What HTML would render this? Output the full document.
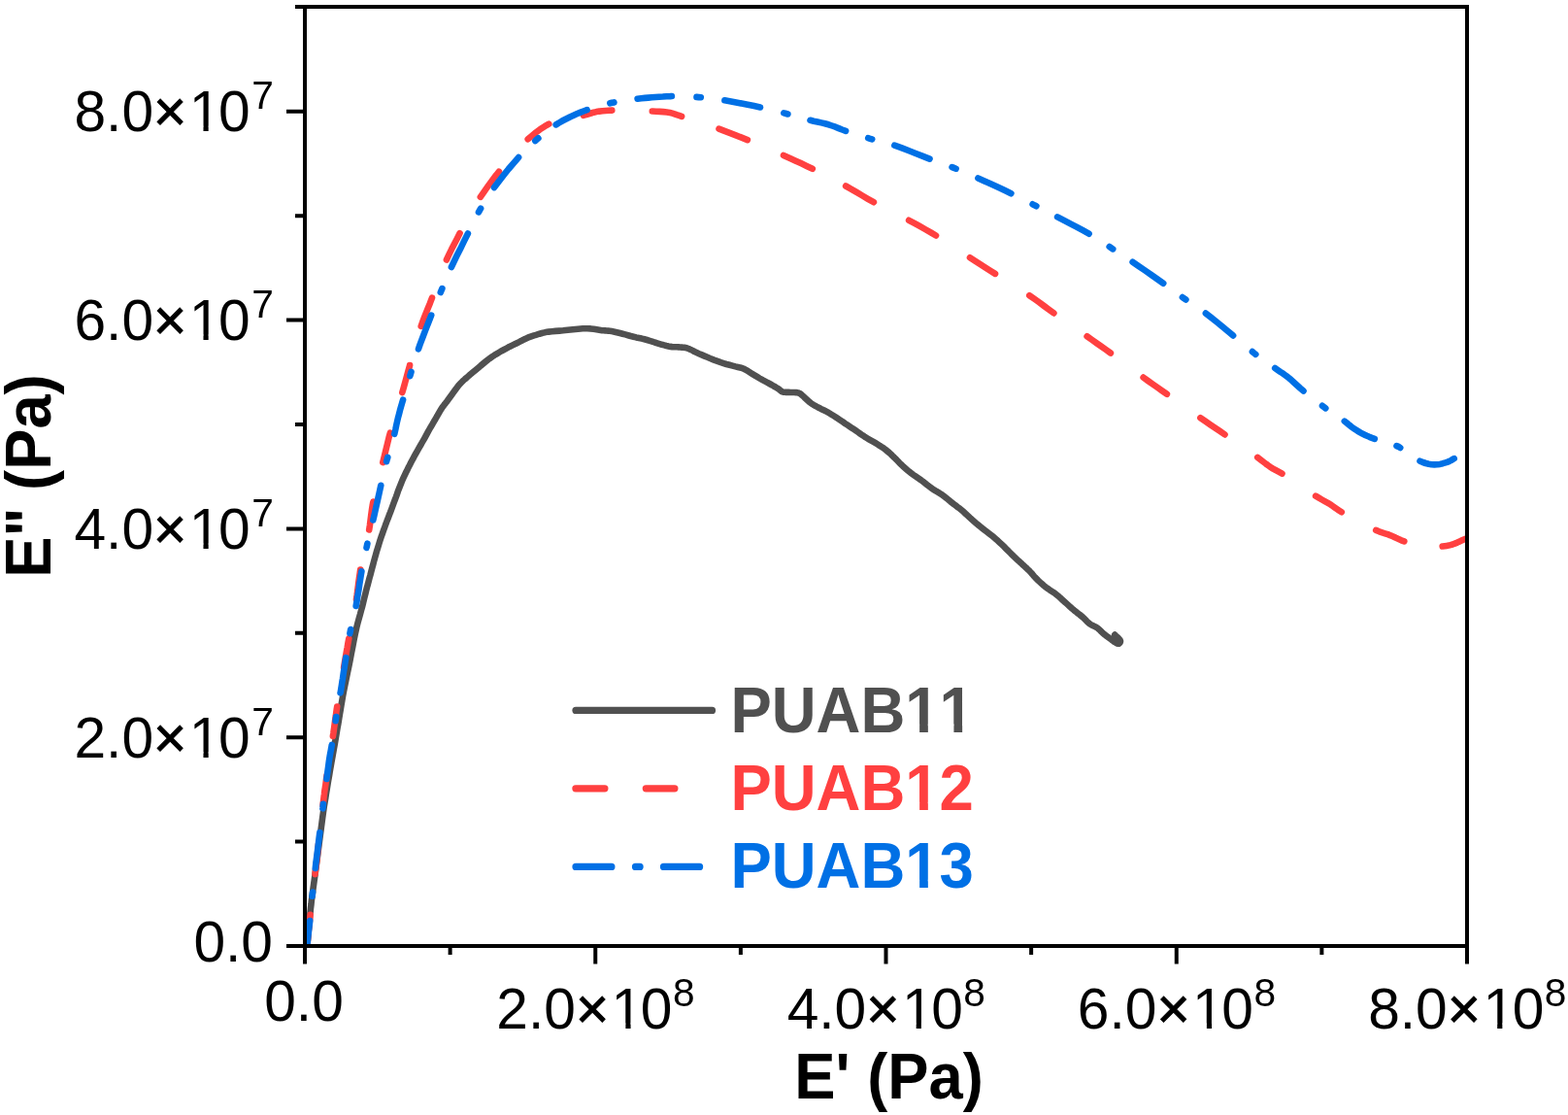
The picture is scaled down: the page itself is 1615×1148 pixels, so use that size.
<!DOCTYPE html><html><head><meta charset="utf-8"><style>html,body{margin:0;padding:0;background:#fff;}svg{display:block;}text{font-kerning:none;font-feature-settings:"kern" 0;}</style></head><body>
<svg width="1615" height="1148" viewBox="0 0 1615 1148">
<rect width="1615" height="1148" fill="#fff"/>
<defs><clipPath id="pc"><rect x="314" y="7" width="1197" height="967"/></clipPath></defs>
<g clip-path="url(#pc)" fill="none" stroke-width="6.6" stroke-linejoin="round" stroke-linecap="round">
<path d="M316.5 972.0 316.8 968.6 317.1 965.3 317.4 961.9 317.7 958.5 318.0 955.0 318.4 951.1 318.7 947.1 319.1 943.1 319.6 939.0 320.0 935.0 320.5 931.0 320.9 927.0 321.5 923.1 322.0 919.1 322.5 915.0 323.1 910.7 323.7 906.4 324.3 902.0 324.9 897.6 325.5 893.0 326.2 887.8 326.9 882.5 327.6 877.0 328.3 871.5 329.0 866.0 329.8 860.0 330.6 854.0 331.4 847.8 332.2 841.8 333.0 836.0 333.7 831.0 334.5 826.2 335.3 821.4 336.0 816.7 336.8 812.0 337.5 807.6 338.2 803.3 339.0 799.0 339.7 794.6 340.5 790.0 341.5 784.3 342.6 778.2 343.7 772.0 344.8 765.9 345.8 760.0 346.7 754.8 347.5 749.8 348.4 744.8 349.2 739.9 350.0 735.0 350.8 730.4 351.5 725.9 352.3 721.4 353.1 716.8 354.0 712.0 355.2 705.9 356.5 699.6 357.8 693.1 359.2 686.5 360.5 680.0 361.8 673.1 363.2 666.1 364.5 659.1 365.9 652.3 367.3 646.0 368.5 641.3 369.7 636.9 370.9 632.7 372.0 628.5 373.1 624.5 374.0 621.0 374.8 617.6 375.6 614.3 376.4 611.1 377.2 607.8 378.0 604.6 378.9 601.5 379.7 598.4 380.5 595.3 381.4 592.1 382.3 588.6 383.2 585.1 384.2 581.5 385.1 578.0 386.1 574.4 387.1 570.8 388.1 567.2 389.2 563.7 390.3 560.1 391.4 556.6 392.5 553.2 393.7 549.8 394.9 546.4 396.1 543.2 397.2 540.0 398.2 537.4 399.1 534.9 400.1 532.4 401.0 530.0 402.0 527.5 403.0 524.8 404.0 522.1 405.0 519.4 406.0 516.7 407.0 514.0 408.0 511.4 408.9 508.8 409.8 506.1 410.8 503.6 411.8 501.0 412.8 498.5 413.8 496.1 414.8 493.6 415.9 491.2 417.0 488.8 418.2 486.3 419.4 483.9 420.6 481.4 421.9 479.0 423.1 476.6 424.3 474.3 425.5 472.1 426.7 469.8 427.9 467.6 429.2 465.3 430.6 462.9 432.0 460.4 433.4 458.0 434.8 455.5 436.2 453.1 437.5 450.8 438.7 448.6 439.9 446.4 441.1 444.2 442.3 442.0 443.5 439.9 444.8 437.8 446.0 435.7 447.2 433.6 448.5 431.5 449.8 429.2 451.1 426.9 452.4 424.6 453.7 422.3 455.1 420.2 456.3 418.4 457.6 416.7 458.9 415.1 460.2 413.4 461.4 411.8 462.5 410.2 463.6 408.7 464.7 407.2 465.8 405.7 467.0 404.1 468.3 402.3 469.6 400.5 471.0 398.6 472.4 396.8 473.9 395.1 475.5 393.5 477.1 391.9 478.8 390.4 480.6 388.9 482.3 387.4 484.1 385.8 485.9 384.3 487.7 382.8 489.6 381.2 491.4 379.7 493.2 378.2 495.0 376.6 496.8 375.1 498.6 373.6 500.4 372.1 502.3 370.6 504.2 369.2 506.2 367.8 508.2 366.4 510.2 365.1 512.4 363.8 514.6 362.5 516.8 361.2 519.1 360.0 521.3 358.8 523.5 357.6 525.8 356.5 528.0 355.4 530.3 354.3 532.5 353.2 534.7 352.1 536.9 350.9 539.2 349.8 541.4 348.7 543.6 347.7 545.7 346.9 547.9 346.1 550.0 345.4 552.1 344.8 554.1 344.2 555.7 343.7 557.2 343.3 558.6 342.8 560.2 342.5 562.0 342.1 565.1 341.6 568.5 341.3 572.2 340.9 576.1 340.6 580.0 340.3 584.8 339.8 590.0 339.2 595.3 338.7 600.3 338.3 605.0 338.2 608.3 338.4 611.5 338.8 614.5 339.3 617.4 339.8 620.0 340.2 621.7 340.3 623.3 340.4 624.8 340.5 626.4 340.6 628.0 340.8 630.0 341.1 632.1 341.5 634.2 342.0 636.4 342.5 638.6 343.0 641.3 343.7 644.0 344.4 646.9 345.2 649.7 346.0 652.5 346.7 655.3 347.4 658.1 348.0 660.9 348.6 663.7 349.3 666.4 350.0 669.1 350.8 671.7 351.6 674.3 352.5 676.9 353.3 679.4 354.1 681.7 354.8 684.0 355.4 686.3 356.0 688.5 356.5 690.6 356.9 692.3 357.1 694.0 357.2 695.6 357.3 697.3 357.3 698.9 357.4 700.6 357.5 702.2 357.6 703.9 357.7 705.6 357.9 707.3 358.3 709.3 359.0 711.3 359.9 713.3 360.9 715.3 362.0 717.5 363.0 720.1 364.2 722.9 365.4 725.7 366.6 728.6 367.8 731.4 369.0 734.2 370.1 736.9 371.2 739.7 372.2 742.5 373.2 745.3 374.1 748.3 375.0 751.5 375.8 754.6 376.6 757.5 377.4 760.0 378.0 761.3 378.3 762.4 378.6 763.4 378.8 764.5 379.1 765.6 379.5 767.2 380.3 768.8 381.2 770.5 382.2 772.2 383.3 773.9 384.4 775.9 385.6 778.0 386.9 780.2 388.2 782.3 389.5 784.4 390.7 786.2 391.7 788.1 392.7 789.9 393.6 791.6 394.5 793.4 395.5 795.2 396.5 796.9 397.5 798.7 398.5 800.3 399.5 801.8 400.4 802.7 401.1 803.5 401.8 804.3 402.4 805.1 403.0 806.0 403.4 807.1 403.7 808.3 403.8 809.6 403.9 810.9 403.9 812.3 403.9 814.1 404.0 816.0 404.0 818.0 404.0 819.8 404.1 821.3 404.3 822.0 404.4 822.5 404.6 823.0 404.8 823.5 405.0 824.1 405.3 825.1 406.0 826.2 407.0 827.4 408.0 828.6 409.2 829.7 410.2 830.8 411.2 831.9 412.2 833.0 413.2 834.1 414.2 835.3 415.1 836.6 416.0 837.9 416.8 839.3 417.6 840.7 418.4 842.2 419.2 843.8 420.0 845.5 420.9 847.2 421.7 848.9 422.5 850.6 423.4 852.5 424.4 854.4 425.5 856.3 426.7 858.1 427.8 860.0 429.0 861.8 430.1 863.5 431.3 865.2 432.4 866.9 433.6 868.7 434.8 870.7 436.2 872.8 437.5 874.9 438.9 877.1 440.4 879.2 441.8 881.4 443.3 883.7 444.9 885.9 446.5 888.2 448.1 890.5 449.6 892.8 451.0 895.0 452.3 897.3 453.6 899.6 454.9 901.8 456.2 904.0 457.5 906.1 458.9 908.2 460.2 910.3 461.6 912.3 463.1 914.1 464.6 915.9 466.1 917.6 467.7 919.3 469.4 921.0 471.0 922.7 472.7 924.5 474.5 926.2 476.3 927.9 478.0 929.7 479.7 931.4 481.2 933.1 482.7 934.8 484.2 936.6 485.7 938.4 487.1 940.4 488.6 942.5 490.1 944.6 491.5 946.8 493.0 948.9 494.5 951.1 496.2 953.3 497.9 955.5 499.7 957.8 501.4 960.0 503.0 962.1 504.4 964.2 505.7 966.3 506.9 968.4 508.2 970.5 509.6 972.6 511.2 974.7 512.8 976.8 514.5 978.9 516.3 980.9 517.9 982.8 519.4 984.8 520.8 986.7 522.3 988.6 523.7 990.5 525.3 992.6 527.1 994.6 529.0 996.7 530.9 998.8 532.9 1000.9 534.8 1003.1 536.7 1005.4 538.7 1007.7 540.6 1010.0 542.5 1012.3 544.4 1014.6 546.2 1016.9 547.9 1019.1 549.6 1021.4 551.3 1023.6 553.1 1025.7 555.0 1027.8 556.8 1029.9 558.8 1031.9 560.7 1034.0 562.7 1036.1 564.8 1038.2 566.9 1040.3 569.0 1042.4 571.1 1044.5 573.2 1046.8 575.4 1049.2 577.6 1051.6 579.7 1053.8 581.8 1055.8 583.6 1057.0 584.7 1058.0 585.7 1059.0 586.6 1060.0 587.5 1061.0 588.6 1062.3 590.0 1063.6 591.5 1064.9 593.1 1066.3 594.7 1067.8 596.2 1069.5 597.9 1071.4 599.6 1073.3 601.3 1075.2 603.0 1077.2 604.6 1079.2 606.0 1081.2 607.4 1083.2 608.7 1085.2 610.0 1087.2 611.4 1089.1 613.0 1091.0 614.6 1092.9 616.3 1094.7 618.0 1096.6 619.7 1098.5 621.4 1100.4 623.1 1102.2 624.8 1104.1 626.5 1106.0 628.1 1107.9 629.6 1109.8 631.2 1111.8 632.6 1113.6 634.1 1115.4 635.6 1116.8 636.9 1118.1 638.3 1119.3 639.6 1120.6 640.8 1122.0 642.0 1123.6 643.1 1125.4 644.0 1127.2 644.9 1129.0 645.8 1130.6 646.8 1131.9 647.9 1133.2 649.1 1134.4 650.3 1135.6 651.5 1136.8 652.6 1138.0 653.5 1139.1 654.4 1140.3 655.2 1141.4 656.1 1142.6 656.9 1143.8 657.8 1145.0 658.8 1146.2 659.7 1147.4 660.6 1148.5 661.3 1149.3 661.8 1150.2 662.2 1150.9 662.6 1151.7 662.8 1152.3 662.8 1152.8 662.5 1153.3 662.0 1153.7 661.4 1153.9 660.7 1154.0 660.0 1153.5 658.9 1152.4 657.6 1151.0 656.2 1149.5 654.8 1148.2 653.5" stroke="#505050"/>
<path d="M316.5 972.0 317.1 966.5 317.6 960.8 318.2 955.2 318.8 949.9 319.3 945.0 319.6 941.9M324.5 900.1 324.5 900.0 324.9 896.9 325.3 893.7 325.7 890.6 326.1 887.3 326.5 884.0 326.9 880.2 327.3 876.3 327.7 872.3 327.9 869.6M332.6 828.9 332.7 828.1 333.1 824.6 333.5 821.0 334.0 817.4 334.4 813.9 335.0 810.4 335.5 806.8 336.0 803.0 336.6 798.5M342.9 757.9 343.4 754.8 343.8 751.8 344.2 748.9 344.6 746.0 345.0 743.0 345.4 739.9 345.9 736.8 346.3 733.7 346.7 730.6 347.2 727.5 347.2 727.5M354.1 687.4 354.1 687.3 354.7 683.7 355.3 680.1 355.9 676.5 356.5 673.0 357.1 669.7 357.7 666.6 358.2 663.4 358.8 660.2 359.3 657.4M367.0 617.1 367.6 613.2 368.6 605.5 369.6 597.5 370.7 589.9 371.2 586.6M380.2 545.4 380.9 541.0 381.6 535.5 382.3 529.9 383.0 524.7 383.7 520.2 384.1 518.0 384.4 516.6M394.3 476.1 394.6 474.9 396.1 468.7 397.6 462.6 399.1 456.5 400.5 450.7 401.9 445.7M414.3 404.2 415.8 399.0 417.4 393.2 419.0 387.3 420.6 381.5 422.1 376.1 422.1 376.0M433.7 335.8 435.7 330.2 438.0 324.2 440.5 318.1 442.9 312.2 445.0 306.6M459.9 267.5 462.4 262.2 465.1 256.6 468.0 251.0 470.9 245.4 473.6 240.1M494.8 202.8 498.3 197.8 502.1 192.4 506.1 186.9 510.1 181.6 513.9 176.7M543.7 143.3 547.7 139.9 552.0 136.4 556.4 133.1 560.9 130.2 565.3 127.7M600.9 118.8 603.7 118.1 606.3 117.3 608.9 116.5 611.6 115.7 614.3 115.1 617.4 114.6 620.5 114.3 623.7 114.0 627.0 113.8 630.3 113.6M671.8 114.5 672.0 114.5 675.8 114.7 679.5 114.9 683.2 115.1 686.7 115.5 690.0 116.0 692.5 116.6 694.7 117.3 696.9 118.1 699.3 118.9 702.1 119.9M740.5 132.7 746.3 134.9 752.2 137.1 758.0 139.3 763.8 141.6 769.9 144.1 769.9 144.1M807.0 159.9 813.2 162.7 819.1 165.4 824.9 168.1 830.8 170.9 836.8 173.8M871.1 191.5 877.0 194.8 882.7 198.2 888.3 201.5 893.9 204.8 899.9 208.2M936.1 226.8 941.9 229.9 947.4 232.9 952.8 236.0 958.3 239.1 964.0 242.5M999.0 265.2 999.0 265.2 1004.4 268.7 1009.5 272.0 1014.5 275.2 1019.6 278.5 1025.0 281.9M1060.3 304.2 1065.6 307.9 1070.5 311.4 1075.3 315.0 1080.2 318.6 1085.4 322.4M1119.6 346.3 1124.7 349.9 1129.4 353.2 1134.1 356.5 1138.9 359.9 1143.9 363.5M1177.6 388.6 1182.6 392.2 1187.4 395.6 1192.1 398.9 1196.8 402.2 1201.9 405.8M1236.4 430.2 1241.6 433.8 1246.5 437.2 1251.4 440.5 1256.3 443.8 1261.5 447.4M1295.2 470.9 1298.4 473.3 1301.2 475.5 1303.8 477.5 1306.4 479.4 1309.0 481.2 1311.2 482.6 1313.4 483.7 1315.5 484.8 1317.8 486.1 1320.5 487.6M1355.1 510.7 1358.5 512.7 1361.6 514.5 1364.5 516.1 1367.3 517.6 1370.1 519.3 1372.4 520.9 1374.6 522.4 1376.7 523.9 1379.0 525.5 1381.8 527.3 1381.8 527.3M1417.2 545.9 1420.6 547.3 1423.7 548.4 1426.6 549.3 1429.4 550.2 1432.3 551.3 1435.1 552.5 1437.8 553.8 1440.5 555.0 1443.3 556.3 1446.3 557.4 1446.3 557.4M1485.7 562.5 1488.0 562.2 1490.1 561.9 1492.1 561.6 1494.0 561.1 1496.1 560.5 1498.5 559.6 1501.0 558.6 1503.4 557.5 1505.9 556.3 1508.3 555.2 1510.7 554.2 1513.0 553.1 1514.8 552.3" stroke="#ff4040"/>
<path d="M316.5 972.0 317.0 967.5 317.5 963.0 318.0 958.4 318.5 954.0 319.0 949.7 319.2 948.0M321.6 922.7 321.7 921.7 322.0 919.0 322.1 918.5M324.8 894.0 325.1 891.3 325.5 887.7 326.0 884.0 326.5 880.1 327.0 876.2 327.5 872.2 328.0 868.2 328.5 864.0 329.1 859.1 329.4 857.2M332.4 832.3 332.5 831.6 332.9 828.1 332.9 827.9M336.4 802.0 336.9 798.3 337.6 793.3 338.3 788.2 338.9 783.4 339.6 779.0 340.1 776.1 340.6 773.5 341.1 771.0 341.5 768.5 341.8 766.9M345.6 742.2 345.9 740.0 346.2 738.0M350.6 713.3 350.7 713.0 351.3 709.2 351.9 705.5 352.4 702.0 353.0 698.5 353.5 695.0 354.0 691.5 354.6 688.0 355.1 684.5 355.7 680.8 356.3 677.2M360.4 652.2 360.8 650.0 361.2 648.0M366.7 623.9 367.0 622.1 367.7 618.1 368.3 614.1 369.0 610.0 369.7 605.7 370.3 601.4 371.0 597.0 371.7 592.5 372.4 588.4M377.5 563.9 377.9 562.0 378.4 559.7M384.3 535.5 385.2 531.7 387.0 523.6 388.9 515.2 390.7 507.1 392.3 499.8M398.1 475.2 398.7 473.0 399.3 471.0M406.3 446.8 406.5 445.9 407.4 441.9 408.2 437.9 409.1 433.9 410.0 430.0 411.0 426.3 411.9 422.7 412.9 419.1 414.0 415.4 415.1 411.6M422.3 387.1 422.9 385.0 423.5 383.0M431.0 359.3 432.5 354.9 435.4 347.3 438.4 339.4 441.4 331.7 444.2 324.6M453.8 301.0 454.6 299.0 455.4 297.1M464.9 275.0 466.8 271.0 470.5 263.3 474.5 255.4 478.3 247.6 481.9 240.5M493.0 218.4 494.0 216.6 495.1 214.7M509.0 193.1 513.6 187.0 518.6 180.5 523.8 174.0 529.1 167.8 534.1 162.1M551.3 145.0 552.9 143.6 554.4 142.3M572.7 128.4 575.7 126.5 578.6 124.8 581.5 123.3 584.5 121.8 587.5 120.3 590.8 118.8 594.0 117.3 597.4 115.9 600.9 114.5 604.6 113.2M628.3 106.3 630.3 105.8 632.4 105.4M656.6 101.7 660.5 101.2 664.2 100.9 667.7 100.6 671.3 100.3 675.0 100.0 678.8 99.7 682.7 99.5 686.6 99.2 690.5 99.1 691.9 99.0M717.5 99.9 719.7 100.1 721.8 100.3M746.4 103.3 753.0 104.4 760.8 105.9 768.8 107.5 776.6 109.1 783.0 110.5M807.3 116.4 808.9 116.8 811.4 117.5M834.5 123.8 838.1 124.7 842.0 125.5 845.9 126.4 849.7 127.3 853.5 128.3 857.0 129.5 860.5 130.7 863.9 132.1 867.4 133.5 871.1 134.8M894.2 142.2 896.2 142.8 898.2 143.4M921.3 149.7 928.3 152.1 935.7 155.0 943.2 158.0 950.6 160.9 957.5 163.6M980.6 172.1 982.6 172.9 984.6 173.7M1007.4 183.4 1014.0 186.4 1020.9 189.5 1028.0 192.8 1034.9 196.1 1041.4 199.2M1063.6 210.3 1065.5 211.3 1067.4 212.2M1089.1 223.4 1095.4 226.7 1102.0 230.1 1108.8 233.6 1115.4 237.2 1121.6 240.7M1142.7 254.1 1144.5 255.3 1146.2 256.4M1166.6 269.8 1172.7 273.9 1179.2 278.4 1185.8 283.0 1192.2 287.5 1198.2 291.7 1198.2 291.7M1217.9 306.1 1219.6 307.3 1221.4 308.5M1241.9 322.6 1247.4 326.9 1253.2 331.5 1259.0 336.3 1264.7 341.0 1270.1 345.5 1270.1 345.5M1289.9 362.1 1291.6 363.5 1293.3 364.8M1313.2 379.1 1316.0 381.0 1318.5 382.7 1321.0 384.3 1323.5 386.1 1326.1 388.0 1329.3 390.6 1332.4 393.5 1335.7 396.5 1339.0 399.5 1342.5 402.5M1362.0 417.8 1363.7 419.1 1365.3 420.3M1384.8 433.7 1386.7 435.1 1388.3 436.4 1389.8 437.7 1391.3 438.9 1392.9 440.1 1394.9 441.5 1396.9 442.8 1399.0 444.1 1401.1 445.4 1403.3 446.6 1405.6 447.7 1408.0 448.8 1410.4 449.8 1413.0 450.8 1415.8 451.8 1415.8 451.8M1438.5 459.1 1440.4 459.9 1442.2 461.0M1462.5 474.7 1465.6 476.0 1468.6 477.0 1471.6 477.7 1474.5 478.2 1477.4 478.4 1480.2 478.3 1483.1 477.9 1486.0 477.2 1488.7 476.4 1491.1 475.6 1492.8 474.9 1494.4 474.1 1495.9 473.2 1497.3 472.3 1497.7 472.1" stroke="#0070e5"/>
</g>
<rect x="314.0" y="7" width="1197.0" height="967.0" fill="none" stroke="#000" stroke-width="4"/>
<path d="M295 974.0H314.0 M295 759.2H314.0 M295 544.4H314.0 M295 329.6H314.0 M295 114.8H314.0 M304 866.6H314.0 M304 651.8H314.0 M304 437.0H314.0 M304 222.2H314.0 M304 7.0H314.0 M314.00 974.0V992.5 M613.25 974.0V992.5 M912.50 974.0V992.5 M1211.75 974.0V992.5 M1511.00 974.0V992.5 M463.62 974.0V983 M762.88 974.0V983 M1062.12 974.0V983 M1361.38 974.0V983" stroke="#000" stroke-width="4" fill="none"/>
<defs><clipPath id="tc" clipPathUnits="userSpaceOnUse"><path clip-rule="evenodd" d="M0 0H1615V1148H0ZM197.69 129.81H209.48V136.90H197.69ZM214.67 129.81H226.00V136.90H214.67ZM197.69 344.61H209.48V351.70H197.69ZM214.67 344.61H226.00V351.70H214.67ZM197.69 559.41H209.48V566.50H197.69ZM214.67 559.41H226.00V566.50H214.67ZM197.69 774.21H209.48V781.30H197.69ZM214.67 774.21H226.00V781.30H214.67ZM632.59 1053.61H644.38V1060.70H632.59ZM649.57 1053.61H660.90V1060.70H649.57ZM931.89 1053.61H943.68V1060.70H931.89ZM948.87 1053.61H960.20V1060.70H948.87ZM1231.09 1053.61H1242.88V1060.70H1231.09ZM1248.07 1053.61H1259.40V1060.70H1248.07ZM1530.39 1053.61H1542.18V1060.70H1530.39ZM1547.37 1053.61H1558.70V1060.70H1547.37ZM934.81 745.57H947.13V755.17H934.81ZM955.84 745.57H967.36V755.17H955.84ZM970.11 745.57H982.43V755.17H970.11ZM991.15 745.57H1002.66V755.17H991.15ZM934.81 825.67H947.13V835.27H934.81ZM955.84 825.67H967.36V835.27H955.84ZM934.81 905.87H947.13V915.47H934.81ZM955.84 905.87H967.36V915.47H955.84Z"/></clipPath></defs>
<g clip-path="url(#tc)">
<text x="257.6" y="135.4" font-family="Liberation Sans, Arial, sans-serif" font-size="58.7" text-anchor="end">8.0<tspan stroke="#000" stroke-width="0.9">&#215;</tspan><tspan dx="2.4">1</tspan><tspan dx="-2.4">0</tspan></text>
<text x="259.3" y="112.3" font-family="Liberation Sans, Arial, sans-serif" font-size="40.7">7</text>
<text x="257.6" y="350.2" font-family="Liberation Sans, Arial, sans-serif" font-size="58.7" text-anchor="end">6.0<tspan stroke="#000" stroke-width="0.9">&#215;</tspan><tspan dx="2.4">1</tspan><tspan dx="-2.4">0</tspan></text>
<text x="259.3" y="327.1" font-family="Liberation Sans, Arial, sans-serif" font-size="40.7">7</text>
<text x="257.6" y="565.0" font-family="Liberation Sans, Arial, sans-serif" font-size="58.7" text-anchor="end">4.0<tspan stroke="#000" stroke-width="0.9">&#215;</tspan><tspan dx="2.4">1</tspan><tspan dx="-2.4">0</tspan></text>
<text x="259.3" y="541.9" font-family="Liberation Sans, Arial, sans-serif" font-size="40.7">7</text>
<text x="257.6" y="779.8" font-family="Liberation Sans, Arial, sans-serif" font-size="58.7" text-anchor="end">2.0<tspan stroke="#000" stroke-width="0.9">&#215;</tspan><tspan dx="2.4">1</tspan><tspan dx="-2.4">0</tspan></text>
<text x="259.3" y="756.7" font-family="Liberation Sans, Arial, sans-serif" font-size="40.7">7</text>
<text x="281" y="990.4" font-family="Liberation Sans, Arial, sans-serif" font-size="58.7" text-anchor="end">0.0</text>
<text x="313.0" y="1050.8" font-family="Liberation Sans, Arial, sans-serif" font-size="58.7" text-anchor="middle">0.0</text>
<text x="692.5" y="1059.2" font-family="Liberation Sans, Arial, sans-serif" font-size="58.7" text-anchor="end">2.0<tspan stroke="#000" stroke-width="0.9">&#215;</tspan><tspan dx="2.4">1</tspan><tspan dx="-2.4">0</tspan></text>
<text x="693.0" y="1035.7" font-family="Liberation Sans, Arial, sans-serif" font-size="40.7">8</text>
<text x="991.8" y="1059.2" font-family="Liberation Sans, Arial, sans-serif" font-size="58.7" text-anchor="end">4.0<tspan stroke="#000" stroke-width="0.9">&#215;</tspan><tspan dx="2.4">1</tspan><tspan dx="-2.4">0</tspan></text>
<text x="992.3" y="1035.7" font-family="Liberation Sans, Arial, sans-serif" font-size="40.7">8</text>
<text x="1291.0" y="1059.2" font-family="Liberation Sans, Arial, sans-serif" font-size="58.7" text-anchor="end">6.0<tspan stroke="#000" stroke-width="0.9">&#215;</tspan><tspan dx="2.4">1</tspan><tspan dx="-2.4">0</tspan></text>
<text x="1291.5" y="1035.7" font-family="Liberation Sans, Arial, sans-serif" font-size="40.7">8</text>
<text x="1590.3" y="1059.2" font-family="Liberation Sans, Arial, sans-serif" font-size="58.7" text-anchor="end">8.0<tspan stroke="#000" stroke-width="0.9">&#215;</tspan><tspan dx="2.4">1</tspan><tspan dx="-2.4">0</tspan></text>
<text x="1590.8" y="1035.7" font-family="Liberation Sans, Arial, sans-serif" font-size="40.7">8</text>
<text transform="translate(915.5,1130.6) scale(1,1.058)" font-family="Liberation Sans, Arial, sans-serif" font-size="63.3" font-weight="bold" text-anchor="middle">E' (Pa)</text>
<text transform="translate(52,490) rotate(-90) scale(1,1.065)" font-family="Liberation Sans, Arial, sans-serif" font-size="63.3" font-weight="bold" text-anchor="middle">E" (Pa)</text>
<path d="M593 731.4H733.5" stroke="#505050" stroke-width="7.2" stroke-linecap="round"/>
<path d="M592.9 811.8H622.9M665.3 811.8H694.9" stroke="#ff4040" stroke-width="7.2" stroke-linecap="round"/>
<path d="M593 892.4H629.9M654.5 892.4H659.1M683.5 892.4H720.6" stroke="#0070e5" stroke-width="7.2" stroke-linecap="round"/>
<text transform="translate(752.4,753.6) scale(1,1.045)" font-family="Liberation Sans, Arial, sans-serif" font-size="63.5" font-weight="bold" fill="#505050">PUAB11</text>
<text transform="translate(752.4,833.7) scale(1,1.045)" font-family="Liberation Sans, Arial, sans-serif" font-size="63.5" font-weight="bold" fill="#ff4040">PUAB12</text>
<text transform="translate(752.4,913.9) scale(1,1.045)" font-family="Liberation Sans, Arial, sans-serif" font-size="63.5" font-weight="bold" fill="#0070e5">PUAB13</text>
</g>
</svg></body></html>
